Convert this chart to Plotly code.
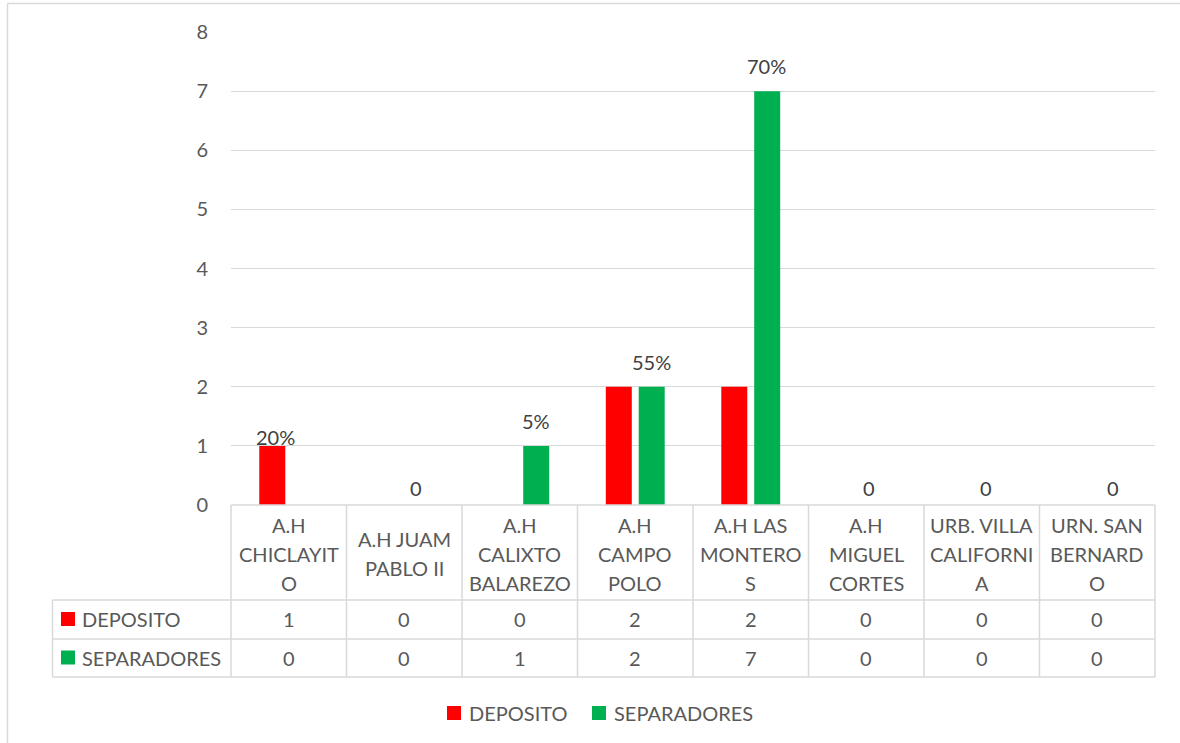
import plotly.graph_objects as go

# ---- data -------------------------------------------------------------
categories = [
    "A.H CHICLAYITO", "A.H JUAM PABLO II", "A.H CALIXTO BALAREZO",
    "A.H CAMPO POLO", "A.H LAS MONTEROS", "A.H MIGUEL CORTES",
    "URB. VILLA CALIFORNIA", "URN. SAN BERNARDO",
]
# category names as wrapped in the table header
header_lines = [
    ["A.H", "CHICLAYIT", "O"],
    ["A.H JUAM", "PABLO II"],
    ["A.H", "CALIXTO", "BALAREZO"],
    ["A.H", "CAMPO", "POLO"],
    ["A.H LAS", "MONTERO", "S"],
    ["A.H", "MIGUEL", "CORTES"],
    ["URB. VILLA", "CALIFORNI", "A"],
    ["URN. SAN", "BERNARD", "O"],
]
series_names = ["DEPOSITO", "SEPARADORES"]
deposito = [1, 0, 0, 2, 2, 0, 0, 0]
separadores = [0, 0, 1, 2, 7, 0, 0, 0]
deposito_labels = ["20%", "", "", "", "", "", "", ""]
separadores_labels = ["", "", "5%", "55%", "70%", "", "", ""]
zero_labels = ["", "0", "", "", "", "0", "0", "0"]
y_ticks = [0, 1, 2, 3, 4, 5, 6, 7, 8]

# ---- style ------------------------------------------------------------
RED = "#FF0000"
GREEN = "#00B050"
GRID = "#D9D9D9"
TXT = "#595959"
LBL = "#404040"
FONT = "Lato"
FS = 20

W, H = 1180, 743
L, R, T, B = 231, 1155, 32, 505   # plot area in pixels


def px(x):
    return (x - L) / (R - L)


def py(y):
    return (B - y) / (B - T)


fig = go.Figure()
fig.add_trace(go.Bar(x=categories, y=deposito, name=series_names[0],
                     marker=dict(color=RED, line=dict(width=0))))
fig.add_trace(go.Bar(x=categories, y=separadores, name=series_names[1],
                     marker=dict(color=GREEN, line=dict(width=0))))

annotations = []
shapes = []

# data labels above the bars
for i, c in enumerate(categories):
    if deposito_labels[i]:
        annotations.append(dict(x=c, y=deposito[i], xref="x", yref="y",
                                text=deposito_labels[i], showarrow=False,
                                xshift=-13, yshift=9,
                                font=dict(family=FONT, size=FS, color=LBL)))
    if separadores_labels[i]:
        annotations.append(dict(x=c, y=separadores[i], xref="x", yref="y",
                                text=separadores_labels[i], showarrow=False,
                                xshift=16, yshift=25,
                                font=dict(family=FONT, size=FS, color=LBL)))
zero_shift = [0, 12, 0, 0, 0, 3, 4, 16]
for i, c in enumerate(categories):
    if zero_labels[i]:
        annotations.append(dict(x=c, y=0, xref="x", yref="y",
                                text=zero_labels[i], showarrow=False,
                                xshift=zero_shift[i], yshift=17,
                                font=dict(family=FONT, size=FS, color=LBL)))

# ---- data table under the axis ----------------------------------------
cw = (R - L) / len(categories)
row_top, row1, row2, row_bot = B, 600, 639, 677
line = dict(color=GRID, width=1.5)

# horizontal rules
shapes.append(dict(type="line", xref="paper", yref="paper",
                   x0=px(L), x1=px(R), y0=py(row_top), y1=py(row_top), line=line))
for yy in (row1, row2, row_bot):
    shapes.append(dict(type="line", xref="paper", yref="paper",
                       x0=px(52.5), x1=px(R), y0=py(yy), y1=py(yy), line=line))
# vertical rules
for k in range(len(categories) + 1):
    xx = L + k * cw
    shapes.append(dict(type="line", xref="paper", yref="paper",
                       x0=px(xx), x1=px(xx), y0=py(row_top), y1=py(row_bot), line=line))
shapes.append(dict(type="line", xref="paper", yref="paper",
                   x0=px(52.5), x1=px(52.5), y0=py(row1), y1=py(row_bot), line=line))

# header cells
for i, lines in enumerate(header_lines):
    cx = L + (i + 0.5) * cw
    n = len(lines)
    for j, t in enumerate(lines):
        cy = 553.5 + (j - (n - 1) / 2) * 29
        annotations.append(dict(x=px(cx), y=py(cy), xref="paper", yref="paper",
                                text=t, showarrow=False, xanchor="center", yanchor="middle",
                                font=dict(family=FONT, size=FS, color=TXT)))

# value rows with their legend keys
for vals, name, color, cy in ((deposito, series_names[0], RED, 619),
                              (separadores, series_names[1], GREEN, 657.5)):
    shapes.append(dict(type="rect", xref="paper", yref="paper",
                       x0=px(61), x1=px(75), y0=py(cy + 7), y1=py(cy - 7),
                       fillcolor=color, line=dict(width=0)))
    annotations.append(dict(x=px(80), y=py(cy), xref="paper", yref="paper",
                            text=name, showarrow=False, xanchor="left", yanchor="middle",
                            font=dict(family=FONT, size=FS, color=TXT)))
    for i, v in enumerate(vals):
        cx = L + (i + 0.5) * cw
        annotations.append(dict(x=px(cx), y=py(cy), xref="paper", yref="paper",
                                text=str(v), showarrow=False, xanchor="center",
                                yanchor="middle",
                                font=dict(family=FONT, size=FS, color=TXT)))

# bottom legend
for name, color, x0 in ((series_names[0], RED, 447), (series_names[1], GREEN, 592)):
    shapes.append(dict(type="rect", xref="paper", yref="paper",
                       x0=px(x0), x1=px(x0 + 14), y0=py(720), y1=py(706),
                       fillcolor=color, line=dict(width=0)))
    annotations.append(dict(x=px(x0 + 20), y=py(713), xref="paper", yref="paper",
                            text=name, showarrow=False, xanchor="left", yanchor="middle",
                            font=dict(family=FONT, size=FS, color=TXT)))

# chart frame: top and left edges (the rest runs off the page)
shapes.append(dict(type="line", xref="paper", yref="paper",
                   x0=px(7.5), x1=px(W + 10), y0=py(3.5), y1=py(3.5),
                   line=dict(color=GRID, width=1.5)))
shapes.append(dict(type="line", xref="paper", yref="paper",
                   x0=px(7.5), x1=px(7.5), y0=py(3.5), y1=py(H + 10),
                   line=dict(color=GRID, width=1.5)))

fig.update_layout(
    width=W, height=H,
    margin=dict(l=L, r=W - R, t=T, b=H - B),
    paper_bgcolor="white", plot_bgcolor="white",
    barmode="group", bargap=0.43, bargroupgap=0.21,
    showlegend=False,
    font=dict(family=FONT, size=FS, color=TXT),
    xaxis=dict(showticklabels=False, showgrid=False, zeroline=False,
               showline=False, ticks="", fixedrange=True),
    yaxis=dict(range=[0, 8], tickvals=y_ticks, showgrid=True, gridcolor=GRID,
               gridwidth=1.3, zeroline=False, showline=False, ticks="",
               ticklabelstandoff=22, tickfont=dict(family=FONT, size=FS, color=TXT),
               fixedrange=True),
    shapes=shapes,
    annotations=annotations,
)

fig.write_html("out.html")
